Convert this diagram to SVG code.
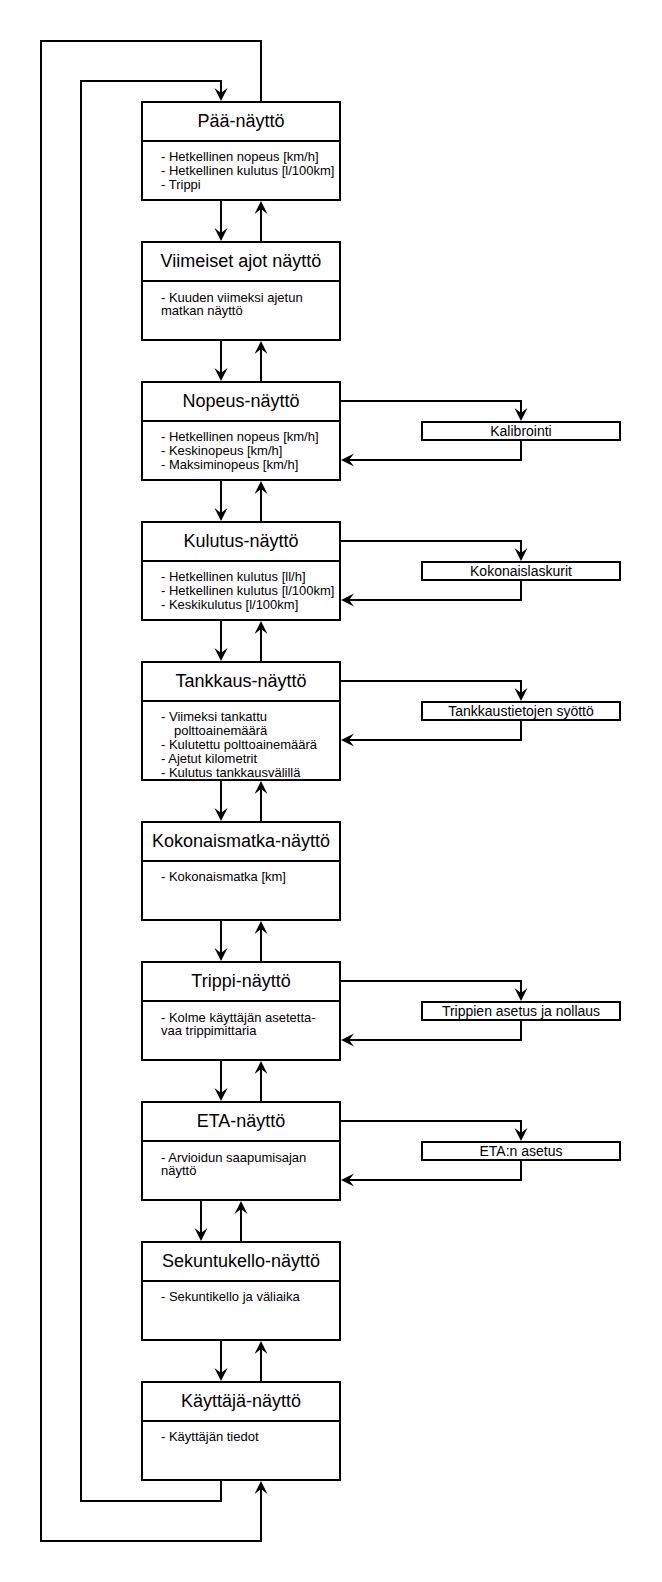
<svg xmlns="http://www.w3.org/2000/svg" width="662" height="1582" viewBox="0 0 662 1582">
<style>
.box{fill:#fff;stroke:#000;stroke-width:2}
.div{stroke:#000;stroke-width:2}
.ttl{font-family:"Liberation Sans",Arial,sans-serif;font-size:18px;text-anchor:middle;fill:#000}
.bd{font-family:"Liberation Sans",Arial,sans-serif;font-size:13px;fill:#000}
.sd{font-family:"Liberation Sans",Arial,sans-serif;font-size:14px;text-anchor:middle;fill:#000}
.c{fill:none;stroke:#000;stroke-width:2;marker-end:url(#arr)}
</style>
<defs>
<marker id="arr" markerUnits="userSpaceOnUse" markerWidth="14" markerHeight="14" viewBox="0 0 14 14" refX="9" refY="7" orient="auto">
<path d="M13,7 L0,0.5 L5,7 L0,13.5 Z" fill="#000"/>
</marker>
</defs>
<rect width="662" height="1582" fill="#fff"/>
<g id="connectors">
<path class="c" d="M221,1481 V1501 H81 V81 H221 V97"/>
<path class="c" d="M261,101 V41 H41 V1541 H261 V1485"/>
<path class="c" d="M221,201 V237"/><path class="c" d="M261,241 V205"/>
<path class="c" d="M221,341 V377"/><path class="c" d="M261,381 V345"/>
<path class="c" d="M221,481 V517"/><path class="c" d="M261,521 V485"/>
<path class="c" d="M221,621 V657"/><path class="c" d="M261,661 V625"/>
<path class="c" d="M221,781 V817"/><path class="c" d="M261,821 V785"/>
<path class="c" d="M221,921 V957"/><path class="c" d="M261,961 V925"/>
<path class="c" d="M221,1061 V1097"/><path class="c" d="M261,1101 V1065"/>
<path class="c" d="M201,1201 V1237"/><path class="c" d="M241,1241 V1205"/>
<path class="c" d="M221,1341 V1377"/><path class="c" d="M261,1381 V1345"/>
<path class="c" d="M341,401 H521 V417"/><path class="c" d="M521,441 V460 H345"/>
<path class="c" d="M341,541 H521 V557"/><path class="c" d="M521,581 V600 H345"/>
<path class="c" d="M341,681 H521 V697"/><path class="c" d="M521,721 V740 H345"/>
<path class="c" d="M341,981 H521 V997"/><path class="c" d="M521,1021 V1040 H345"/>
<path class="c" d="M341,1121 H521 V1137"/><path class="c" d="M521,1161 V1180 H345"/>
</g>
<g id="paa">
<rect class="box" x="142" y="102" width="198" height="98"/><line class="div" x1="142" y1="141" x2="340" y2="141"/>
<text class="ttl" x="241" y="127">Pää-näyttö</text>
<text class="bd" x="161" y="161">- Hetkellinen nopeus [km/h]</text>
<text class="bd" x="161" y="175">- Hetkellinen kulutus [l/100km]</text>
<text class="bd" x="161" y="189">- Trippi</text>
</g>
<g id="viimeiset">
<rect class="box" x="142" y="242" width="198" height="98"/><line class="div" x1="142" y1="281" x2="340" y2="281"/>
<text class="ttl" x="241" y="267">Viimeiset ajot näyttö</text>
<text class="bd" x="161" y="301.5">- Kuuden viimeksi ajetun</text>
<text class="bd" x="161" y="314.5">matkan näyttö</text>
</g>
<g id="nopeus">
<rect class="box" x="142" y="382" width="198" height="98"/><line class="div" x1="142" y1="421" x2="340" y2="421"/>
<text class="ttl" x="241" y="407">Nopeus-näyttö</text>
<text class="bd" x="161" y="441">- Hetkellinen nopeus [km/h]</text>
<text class="bd" x="161" y="455">- Keskinopeus [km/h]</text>
<text class="bd" x="161" y="469">- Maksiminopeus [km/h]</text>
</g>
<g id="kalibrointi">
<rect class="box" x="422" y="422" width="198" height="18"/>
<text class="sd" x="521" y="436">Kalibrointi</text>
</g>
<g id="kulutus">
<rect class="box" x="142" y="522" width="198" height="98"/><line class="div" x1="142" y1="561" x2="340" y2="561"/>
<text class="ttl" x="241" y="547">Kulutus-näyttö</text>
<text class="bd" x="161" y="581">- Hetkellinen kulutus [ll/h]</text>
<text class="bd" x="161" y="595">- Hetkellinen kulutus [l/100km]</text>
<text class="bd" x="161" y="609">- Keskikulutus [l/100km]</text>
</g>
<g id="kokonaislaskurit">
<rect class="box" x="422" y="562" width="198" height="18"/>
<text class="sd" x="521" y="576">Kokonaislaskurit</text>
</g>
<g id="tankkaus">
<rect class="box" x="142" y="662" width="198" height="118"/><line class="div" x1="142" y1="701" x2="340" y2="701"/>
<text class="ttl" x="241" y="687">Tankkaus-näyttö</text>
<text class="bd" x="161" y="721">- Viimeksi tankattu</text>
<text class="bd" x="174" y="735">polttoainemäärä</text>
<text class="bd" x="161" y="749">- Kulutettu polttoainemäärä</text>
<text class="bd" x="161" y="763">- Ajetut kilometrit</text>
<text class="bd" x="161" y="777">- Kulutus tankkausvälillä</text>
</g>
<g id="tankkaustiedot">
<rect class="box" x="422" y="702" width="198" height="18"/>
<text class="sd" x="521" y="716">Tankkaustietojen syöttö</text>
</g>
<g id="kokonaismatka">
<rect class="box" x="142" y="822" width="198" height="98"/><line class="div" x1="142" y1="861" x2="340" y2="861"/>
<text class="ttl" x="241" y="847">Kokonaismatka-näyttö</text>
<text class="bd" x="161" y="881">- Kokonaismatka [km]</text>
</g>
<g id="trippi">
<rect class="box" x="142" y="962" width="198" height="98"/><line class="div" x1="142" y1="1001" x2="340" y2="1001"/>
<text class="ttl" x="241" y="987">Trippi-näyttö</text>
<text class="bd" x="161" y="1021.5">- Kolme käyttäjän asetetta-</text>
<text class="bd" x="161" y="1034.5">vaa trippimittaria</text>
</g>
<g id="trippiasetus">
<rect class="box" x="422" y="1002" width="198" height="18"/>
<text class="sd" x="521" y="1016">Trippien asetus ja nollaus</text>
</g>
<g id="eta">
<rect class="box" x="142" y="1102" width="198" height="98"/><line class="div" x1="142" y1="1141" x2="340" y2="1141"/>
<text class="ttl" x="241" y="1127">ETA-näyttö</text>
<text class="bd" x="161" y="1161.5">- Arvioidun saapumisajan</text>
<text class="bd" x="161" y="1174.5">näyttö</text>
</g>
<g id="etaasetus">
<rect class="box" x="422" y="1142" width="198" height="18"/>
<text class="sd" x="521" y="1156">ETA:n asetus</text>
</g>
<g id="sekuntukello">
<rect class="box" x="142" y="1242" width="198" height="98"/><line class="div" x1="142" y1="1281" x2="340" y2="1281"/>
<text class="ttl" x="241" y="1267">Sekuntukello-näyttö</text>
<text class="bd" x="161" y="1301">- Sekuntikello ja väliaika</text>
</g>
<g id="kayttaja">
<rect class="box" x="142" y="1382" width="198" height="98"/><line class="div" x1="142" y1="1421" x2="340" y2="1421"/>
<text class="ttl" x="241" y="1407">Käyttäjä-näyttö</text>
<text class="bd" x="161" y="1441">- Käyttäjän tiedot</text>
</g>
</svg>
